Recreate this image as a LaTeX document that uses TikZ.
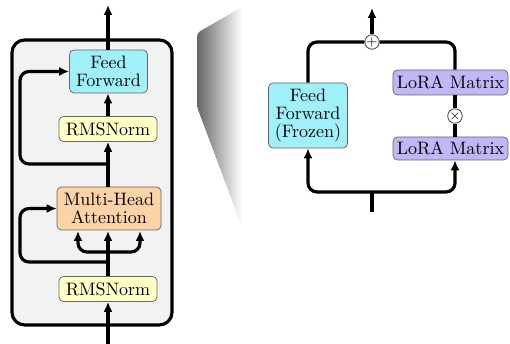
\documentclass[tikz,border=0pt]{standalone}
\usepackage{tikz}
\usetikzlibrary{arrows.meta}

\definecolor{ffcyan}{HTML}{A0F0FA}
\definecolor{normyel}{HTML}{FFFFC4}
\definecolor{attorange}{HTML}{FCD3A6}
\definecolor{lorapurple}{HTML}{C2B6F6}
\definecolor{blockgray}{HTML}{F2F2F2}
\def\pxu{0.555pt}

\begin{document}
\begin{tikzpicture}[x=\pxu,y=-\pxu,
  blk/.style={draw=black!60,line width=0.4pt,rounded corners=2.5pt,inner sep=0pt,align=center},
  box/.style 2 args={blk,minimum width=#1*\pxu,minimum height=#2*\pxu},
  wire/.style={line width=1.75pt,rounded corners=5pt},
  arr/.style={wire,-{Latex[length=5.5pt,width=5pt]}},
  op/.style={draw=black!70,fill=white,line width=0.5pt,circle,inner sep=0pt,minimum size=6.5pt}]
\useasboundingbox (0,0) rectangle (510,344);

% transformer block
\draw[line width=1.75pt,fill=blockgray,rounded corners=7pt] (12,40) rectangle (172,325);
\node[box={78}{43},fill=ffcyan] (ff) at (108.5,71.5) {Feed\\[-2pt]Forward};
\node[box={98}{25},fill=normyel] (norm2) at (108,129) {RMSNorm};
\node[box={104}{43},fill=attorange] (mha) at (109,208.5) {Multi-Head\\[-2pt]Attention};
\node[box={98}{25},fill=normyel] (norm1) at (108,289) {RMSNorm};

\coordinate (in) at (108,344);
\coordinate (out) at (108,5);
\draw[arr] (in) -- (norm1);
\draw[arr] (norm1) -- (108,231);
\draw[arr] (108,252) -| (78,231);
\draw[arr] (108,252) -| (140,231);
\draw[arr] (108,262) -- (20,262) |- (mha);
\draw[arr] (mha.north -| norm2) -- (norm2);
\draw[arr] (108,164) -- (20,164) |- (ff);
\draw[arr] (norm2) -- (ff.south -| norm2);
\draw[arr] (ff.north -| out) -- (out);

% zoom
\shade[left color=black!60,right color=white,rounded corners=2pt] (197,33) -- (242,7) -- (242,227) -- (197,107) -- cycle;

% lora
\node[box={79}{65},fill=ffcyan] (ffz) at (308,115.5) {Feed\\[-2pt]Forward\\[-2pt](Frozen)};
\node[box={115}{25},fill=lorapurple] (loraB) at (450.5,82.5) {LoRA Matrix};
\node[box={115}{23},fill=lorapurple] (loraA) at (450.5,148.5) {LoRA Matrix};
\node[op] (mul) at (455,116) {\scriptsize$\times$};
\node[op] (add) at (372,42) {\scriptsize$+$};

\coordinate (lin) at (372,212);
\coordinate (lsplit) at (372,192);
\coordinate (lout) at (372,8);
\draw[wire] (lin) -- (lsplit);
\draw[arr] (lsplit) -| (ffz.south);
\draw[arr] (lsplit) -| (mul |- loraA.south);
\draw[wire] (mul |- loraA.north) -- (mul);
\draw[wire] (mul) -- (mul |- loraB.south);
\draw[wire] (ffz.north) |- (add);
\draw[wire] (mul |- loraB.north) |- (add);
\draw[arr] (add) -- (lout);
\end{tikzpicture}
\end{document}
